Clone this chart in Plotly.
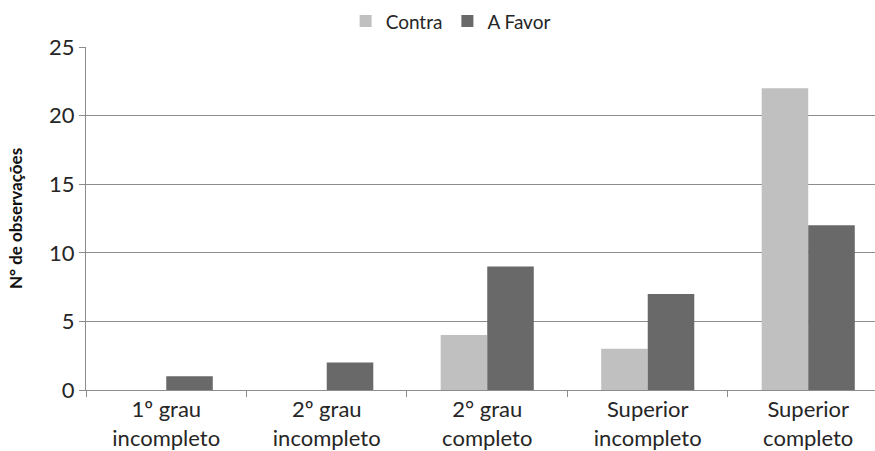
import plotly.graph_objects as go

# Education level categories (two-line tick labels)
categories = [
    "1º grau<br>incompleto",
    "2º grau<br>incompleto",
    "2° grau<br>completo",
    "Superior<br>incompleto",
    "Superior<br>completo",
]
contra = [0, 0, 4, 3, 22]
a_favor = [1, 2, 9, 7, 12]
y_ticks = [0, 5, 10, 15, 20, 25]

FONT = "Lato, Open Sans, sans-serif"
TEXT = "#262626"

fig = go.Figure()
fig.add_trace(go.Bar(
    name="Contra", x=categories, y=contra,
    marker=dict(color="#c0c0c0", line=dict(width=0)),
))
fig.add_trace(go.Bar(
    name="A Favor", x=categories, y=a_favor,
    marker=dict(color="#696969", line=dict(width=0)),
))

fig.update_layout(
    width=875, height=451,
    margin=dict(l=86, r=0, t=47, b=61, autoexpand=False),
    paper_bgcolor="white", plot_bgcolor="white",
    barmode="group", bargap=0.42, bargroupgap=0,
    font=dict(family=FONT, size=18, color=TEXT),
    legend=dict(
        orientation="h", xref="container", yref="container",
        x=0.515, xanchor="center", y=0.995, yanchor="top",
        font=dict(size=19, color=TEXT),
        itemwidth=30, traceorder="normal",
    ),
)
fig.update_xaxes(
    type="category", range=[-0.5, 4.416],
    tickson="boundaries", ticks="outside", ticklen=6, tickcolor="#8c8c8c",
    showline=True, linecolor="#8c8c8c", linewidth=1,
    showgrid=False, tickfont=dict(size=22, color=TEXT),
)
fig.update_yaxes(
    range=[0, 25], tickvals=y_ticks, ticks="outside", ticklen=6,
    tickcolor="#8c8c8c", showline=True, linecolor="#8c8c8c", linewidth=1,
    showgrid=True, gridcolor="#8c8c8c", gridwidth=1, zeroline=False,
    tickfont=dict(size=22, color=TEXT),
    title=dict(text="<b>N° de observações</b>", font=dict(size=17, color="#111111"),
               standoff=22),
)

fig.write_html("out.html")
